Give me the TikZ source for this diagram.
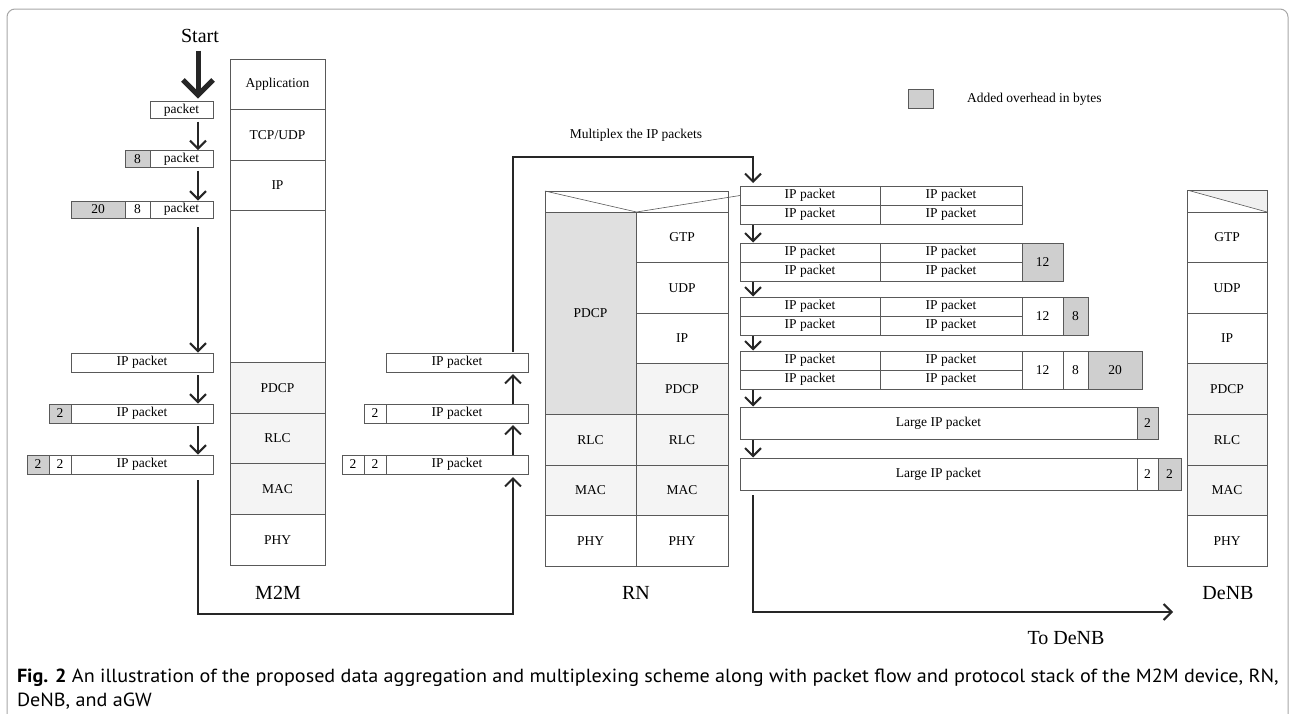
\documentclass[tikz,border=0pt]{standalone}
\usepackage{fontspec}
\setmainfont{Liberation Serif}
\newfontfamily\capfont[FakeStretch=1.06]{PT Sans}
\usetikzlibrary{positioning, calc, arrows.meta}
\tikzset{>={Straight Barb[length=8pt,width=16pt]}}
\colorlet{ovgray}{gray!38}
\colorlet{laygray}{gray!9}
\colorlet{pdgray}{gray!24}
\colorlet{boxline}{black!65}

\begin{document}
\begin{tikzpicture}[x=1pt,y=-1pt,
  every node/.style={inner sep=0pt, outer sep=0pt},
  txt/.style={font=\fontsize{13.5}{15}\selectfont},
  lbl/.style={font=\fontsize{20}{22}\selectfont},
  cell/.style={txt, draw=boxline, line width=0.8pt, minimum height=17pt},
  ipcell/.style={cell, minimum height=19pt},
  ovh/.style={cell, fill=ovgray},
  grpA/.style={cell, minimum height=19pt, minimum width=140pt},
  grpB/.style={cell, minimum height=19pt, minimum width=142pt},
  layer/.style={txt, draw=boxline, line width=0.8pt, minimum height=50.6pt},
  lowlayer/.style={layer, fill=laygray},
  flow/.style={->, line width=2pt, black!85, shorten <=1pt, shorten >=0.5pt},
  startflow/.style={-{Straight Barb[length=15pt,width=30pt]}, line width=5pt, black!85},
  thinline/.style={boxline, line width=0.6pt}]

  \useasboundingbox (0,0) rectangle (1292,713);
  \draw[gray!70, line width=1pt, rounded corners=8pt] (7,9) rectangle (1288,740);

  \coordinate (mx) at (198,0);
  \coordinate (rx) at (513,0);
  \coordinate (fx) at (753,0);

  \node[lbl] (start) at (200,36) {Start};
  \node[cell, minimum width=63pt] (pk1) at (181.5,110) {packet};
  \node[cell, minimum width=63pt] (pk2) at (181.5,159) {packet};
  \node[ovh, minimum width=25pt, left=0pt of pk2] (pk2a) {8};
  \node[cell, minimum width=63pt] (pk3) at (181.5,209.5) {packet};
  \node[cell, minimum width=25pt, left=0pt of pk3] (pk3a) {8};
  \node[ovh, minimum width=54pt, left=0pt of pk3a] (pk3b) {20};
  \node[ipcell, minimum width=142pt] (ip1) at (142,362.5) {IP packet};
  \node[ipcell, minimum width=142pt] (ip2) at (142,413.5) {IP packet};
  \node[ovh, minimum height=19pt, minimum width=22pt, left=0pt of ip2] (ip2a) {2};
  \node[ipcell, minimum width=142pt] (ip3) at (142,464.5) {IP packet};
  \node[ipcell, minimum width=22pt, left=0pt of ip3] (ip3a) {2};
  \node[ovh, minimum height=19pt, minimum width=22pt, left=0pt of ip3a] (ip3b) {2};

  \draw[startflow] ($(start.south -| mx)+(0,8)$) -- ($(pk1.north -| mx)+(0,-3)$);
  \draw[flow, shorten <=3pt] (pk1.south -| mx) -- (pk2.north -| mx);
  \draw[flow, shorten <=3pt] (pk2.south -| mx) -- (pk3.north -| mx);
  \draw[flow, shorten <=9pt] (pk3.south -| mx) -- (ip1.north -| mx);
  \draw[flow, shorten <=3pt] (ip1.south -| mx) -- (ip2.north -| mx);
  \draw[flow, shorten <=3pt] (ip2.south -| mx) -- (ip3.north -| mx);

  \node[layer, minimum width=95pt, anchor=north] (mApp) at (277.5,59) {Application};
  \node[layer, minimum width=95pt, below=0pt of mApp] (mTcp) {TCP/UDP};
  \node[layer, minimum width=95pt, below=0pt of mTcp] (mIp) {IP};
  \node[layer, minimum width=95pt, minimum height=151.8pt, below=0pt of mIp] (mGap) {};
  \node[lowlayer, minimum width=95pt, below=0pt of mGap] (mPdcp) {PDCP};
  \node[lowlayer, minimum width=95pt, below=0pt of mPdcp] (mRlc) {RLC};
  \node[lowlayer, minimum width=95pt, below=0pt of mRlc] (mMac) {MAC};
  \node[layer, minimum width=95pt, below=0pt of mMac] (mPhy) {PHY};
  \node[lbl] (m2mlbl) at (278,593) {M2M};

  \node[ipcell, minimum width=142pt] (rn1) at (457,362.5) {IP packet};
  \node[ipcell, minimum width=142pt] (rn2) at (457,413.5) {IP packet};
  \node[ipcell, minimum width=22pt, left=0pt of rn2] (rn2a) {2};
  \node[ipcell, minimum width=142pt] (rn3) at (457,464.5) {IP packet};
  \node[ipcell, minimum width=22pt, left=0pt of rn3] (rn3a) {2};
  \node[ipcell, minimum width=22pt, left=0pt of rn3a] (rn3b) {2};

  \coordinate (m2mlow) at (350,614);
  \coordinate (muxtop) at (636,157);
  \draw[flow, shorten <=6pt, shorten >=3pt] (ip3.south -| mx) -- (mx |- m2mlow) -- (rx |- m2mlow) -- (rn3.south -| rx);
  \draw[flow, shorten <=0pt, shorten >=2pt] (rn3.north -| rx) -- (rn2.south -| rx);
  \draw[flow, shorten <=0pt, shorten >=2pt] (rn2.north -| rx) -- (rn1.south -| rx);
  \node[txt] (muxlbl) at (636,135) {Multiplex the IP packets};

  \node[draw=boxline, line width=0.8pt, minimum width=183pt, minimum height=21pt] (rnHead) at (636.5,201.5) {};
  \node[layer, minimum width=92pt, anchor=north east] (rnGtp) at (rnHead.south east) {GTP};
  \node[layer, minimum width=92pt, below=0pt of rnGtp] (rnUdp) {UDP};
  \node[layer, minimum width=92pt, below=0pt of rnUdp] (rnIp) {IP};
  \node[lowlayer, minimum width=92pt, below=0pt of rnIp] (rnPdcpR) {PDCP};
  \node[lowlayer, minimum width=92pt, below=0pt of rnPdcpR] (rnRlcR) {RLC};
  \node[lowlayer, minimum width=92pt, below=0pt of rnRlcR] (rnMacR) {MAC};
  \node[layer, minimum width=92pt, below=0pt of rnMacR] (rnPhyR) {PHY};
  \node[layer, fill=pdgray, minimum width=91pt, minimum height=202.4pt, anchor=north west] (rnPdcpL) at (rnHead.south west) {PDCP};
  \node[lowlayer, minimum width=91pt, below=0pt of rnPdcpL] (rnRlcL) {RLC};
  \node[lowlayer, minimum width=91pt, below=0pt of rnRlcL] (rnMacL) {MAC};
  \node[layer, minimum width=91pt, below=0pt of rnMacL] (rnPhyL) {PHY};
  \node[lbl] (rnlbl) at (636,593) {RN};

  \node[grpA] (g1a) at (810,195.5) {IP packet};
  \node[grpB, right=0pt of g1a] (g1b) {IP packet};
  \node[grpA, below=0pt of g1a] (g1c) {IP packet};
  \node[grpB, right=0pt of g1c] (g1d) {IP packet};

  \node[grpA] (g2a) at (810,252.5) {IP packet};
  \node[grpB, right=0pt of g2a] (g2b) {IP packet};
  \node[grpA, below=0pt of g2a] (g2c) {IP packet};
  \node[grpB, right=0pt of g2c] (g2d) {IP packet};
  \node[ovh, minimum width=41pt, minimum height=38pt, anchor=north west] (g2e) at (g2b.north east) {12};

  \node[grpA] (g3a) at (810,306.5) {IP packet};
  \node[grpB, right=0pt of g3a] (g3b) {IP packet};
  \node[grpA, below=0pt of g3a] (g3c) {IP packet};
  \node[grpB, right=0pt of g3c] (g3d) {IP packet};
  \node[cell, minimum width=41pt, minimum height=38pt, anchor=north west] (g3e) at (g3b.north east) {12};
  \node[ovh, minimum width=25pt, minimum height=38pt, right=0pt of g3e] (g3f) {8};

  \node[grpA] (g4a) at (810,360.5) {IP packet};
  \node[grpB, right=0pt of g4a] (g4b) {IP packet};
  \node[grpA, below=0pt of g4a] (g4c) {IP packet};
  \node[grpB, right=0pt of g4c] (g4d) {IP packet};
  \node[cell, minimum width=41pt, minimum height=38pt, anchor=north west] (g4e) at (g4b.north east) {12};
  \node[cell, minimum width=25pt, minimum height=38pt, right=0pt of g4e] (g4f) {8};
  \node[ovh, minimum width=54pt, minimum height=38pt, right=0pt of g4f] (g4g) {20};

  \node[cell, minimum width=397pt, minimum height=32pt] (big5) at (938.5,423) {Large IP packet};
  \node[ovh, minimum width=21pt, minimum height=32pt, right=0pt of big5] (big5a) {2};
  \node[cell, minimum width=397pt, minimum height=32pt] (big6) at (938.5,474) {Large IP packet};
  \node[cell, minimum width=21pt, minimum height=32pt, right=0pt of big6] (big6a) {2};
  \node[ovh, minimum width=23pt, minimum height=32pt, right=0pt of big6a] (big6b) {2};

  \draw[thinline] (rnHead.north west) -- (rnHead.south) -- (g1a.west);
  \draw[flow, shorten >=3pt] (rn1.north -| rx) -- (rx |- muxtop) -- (fx |- muxtop) -- (g1a.north -| fx);
  \draw[flow] (g1c.south -| fx) -- (g2a.north -| fx);
  \draw[flow] (g2c.south -| fx) -- (g3a.north -| fx);
  \draw[flow] (g3c.south -| fx) -- (g4a.north -| fx);
  \draw[flow] (g4c.south -| fx) -- (big5.north -| fx);
  \draw[flow] (big5.south -| fx) -- (big6.north -| fx);
  \coordinate (denblow) at (1173,612);
  \draw[flow, shorten <=5pt, shorten >=0pt] (big6.south -| fx) -- (fx |- denblow) -- (denblow);
  \node[lbl] (todenb) at (1066,638) {To DeNB};

  \node[draw=boxline, line width=0.8pt, minimum width=80pt, minimum height=22pt,
    path picture={\fill[gray!12] (path picture bounding box.north west) -- (path picture bounding box.north east) -- (path picture bounding box.south east) -- cycle;
      \draw[thinline] (path picture bounding box.north west) -- (path picture bounding box.south east);}] (dHead) at (1227,201) {};
  \node[layer, minimum width=80pt, below=0pt of dHead] (dGtp) {GTP};
  \node[layer, minimum width=80pt, below=0pt of dGtp] (dUdp) {UDP};
  \node[layer, minimum width=80pt, below=0pt of dUdp] (dIp) {IP};
  \node[lowlayer, minimum width=80pt, below=0pt of dIp] (dPdcp) {PDCP};
  \node[lowlayer, minimum width=80pt, below=0pt of dPdcp] (dRlc) {RLC};
  \node[lowlayer, minimum width=80pt, below=0pt of dRlc] (dMac) {MAC};
  \node[layer, minimum width=80pt, below=0pt of dMac] (dPhy) {PHY};
  \node[lbl] (denblbl) at (1228,593) {DeNB};

  \node[ovh, minimum width=25pt, minimum height=19pt] (legbox) at (920.5,98.5) {};
  \node[txt, anchor=west] (legtxt) at (967,99) {Added overhead in bytes};

  \node[anchor=base west, font=\capfont\fontsize{19}{22}\selectfont] (cap1) at (17,682)
    {\textbf{Fig. 2} An illustration of the proposed data aggregation and multiplexing scheme along with packet flow and protocol stack of the M2M device, RN,};
  \node[anchor=base west, font=\capfont\fontsize{19}{22}\selectfont] (cap2) at (17,706) {DeNB, and aGW};
\end{tikzpicture}
\end{document}
